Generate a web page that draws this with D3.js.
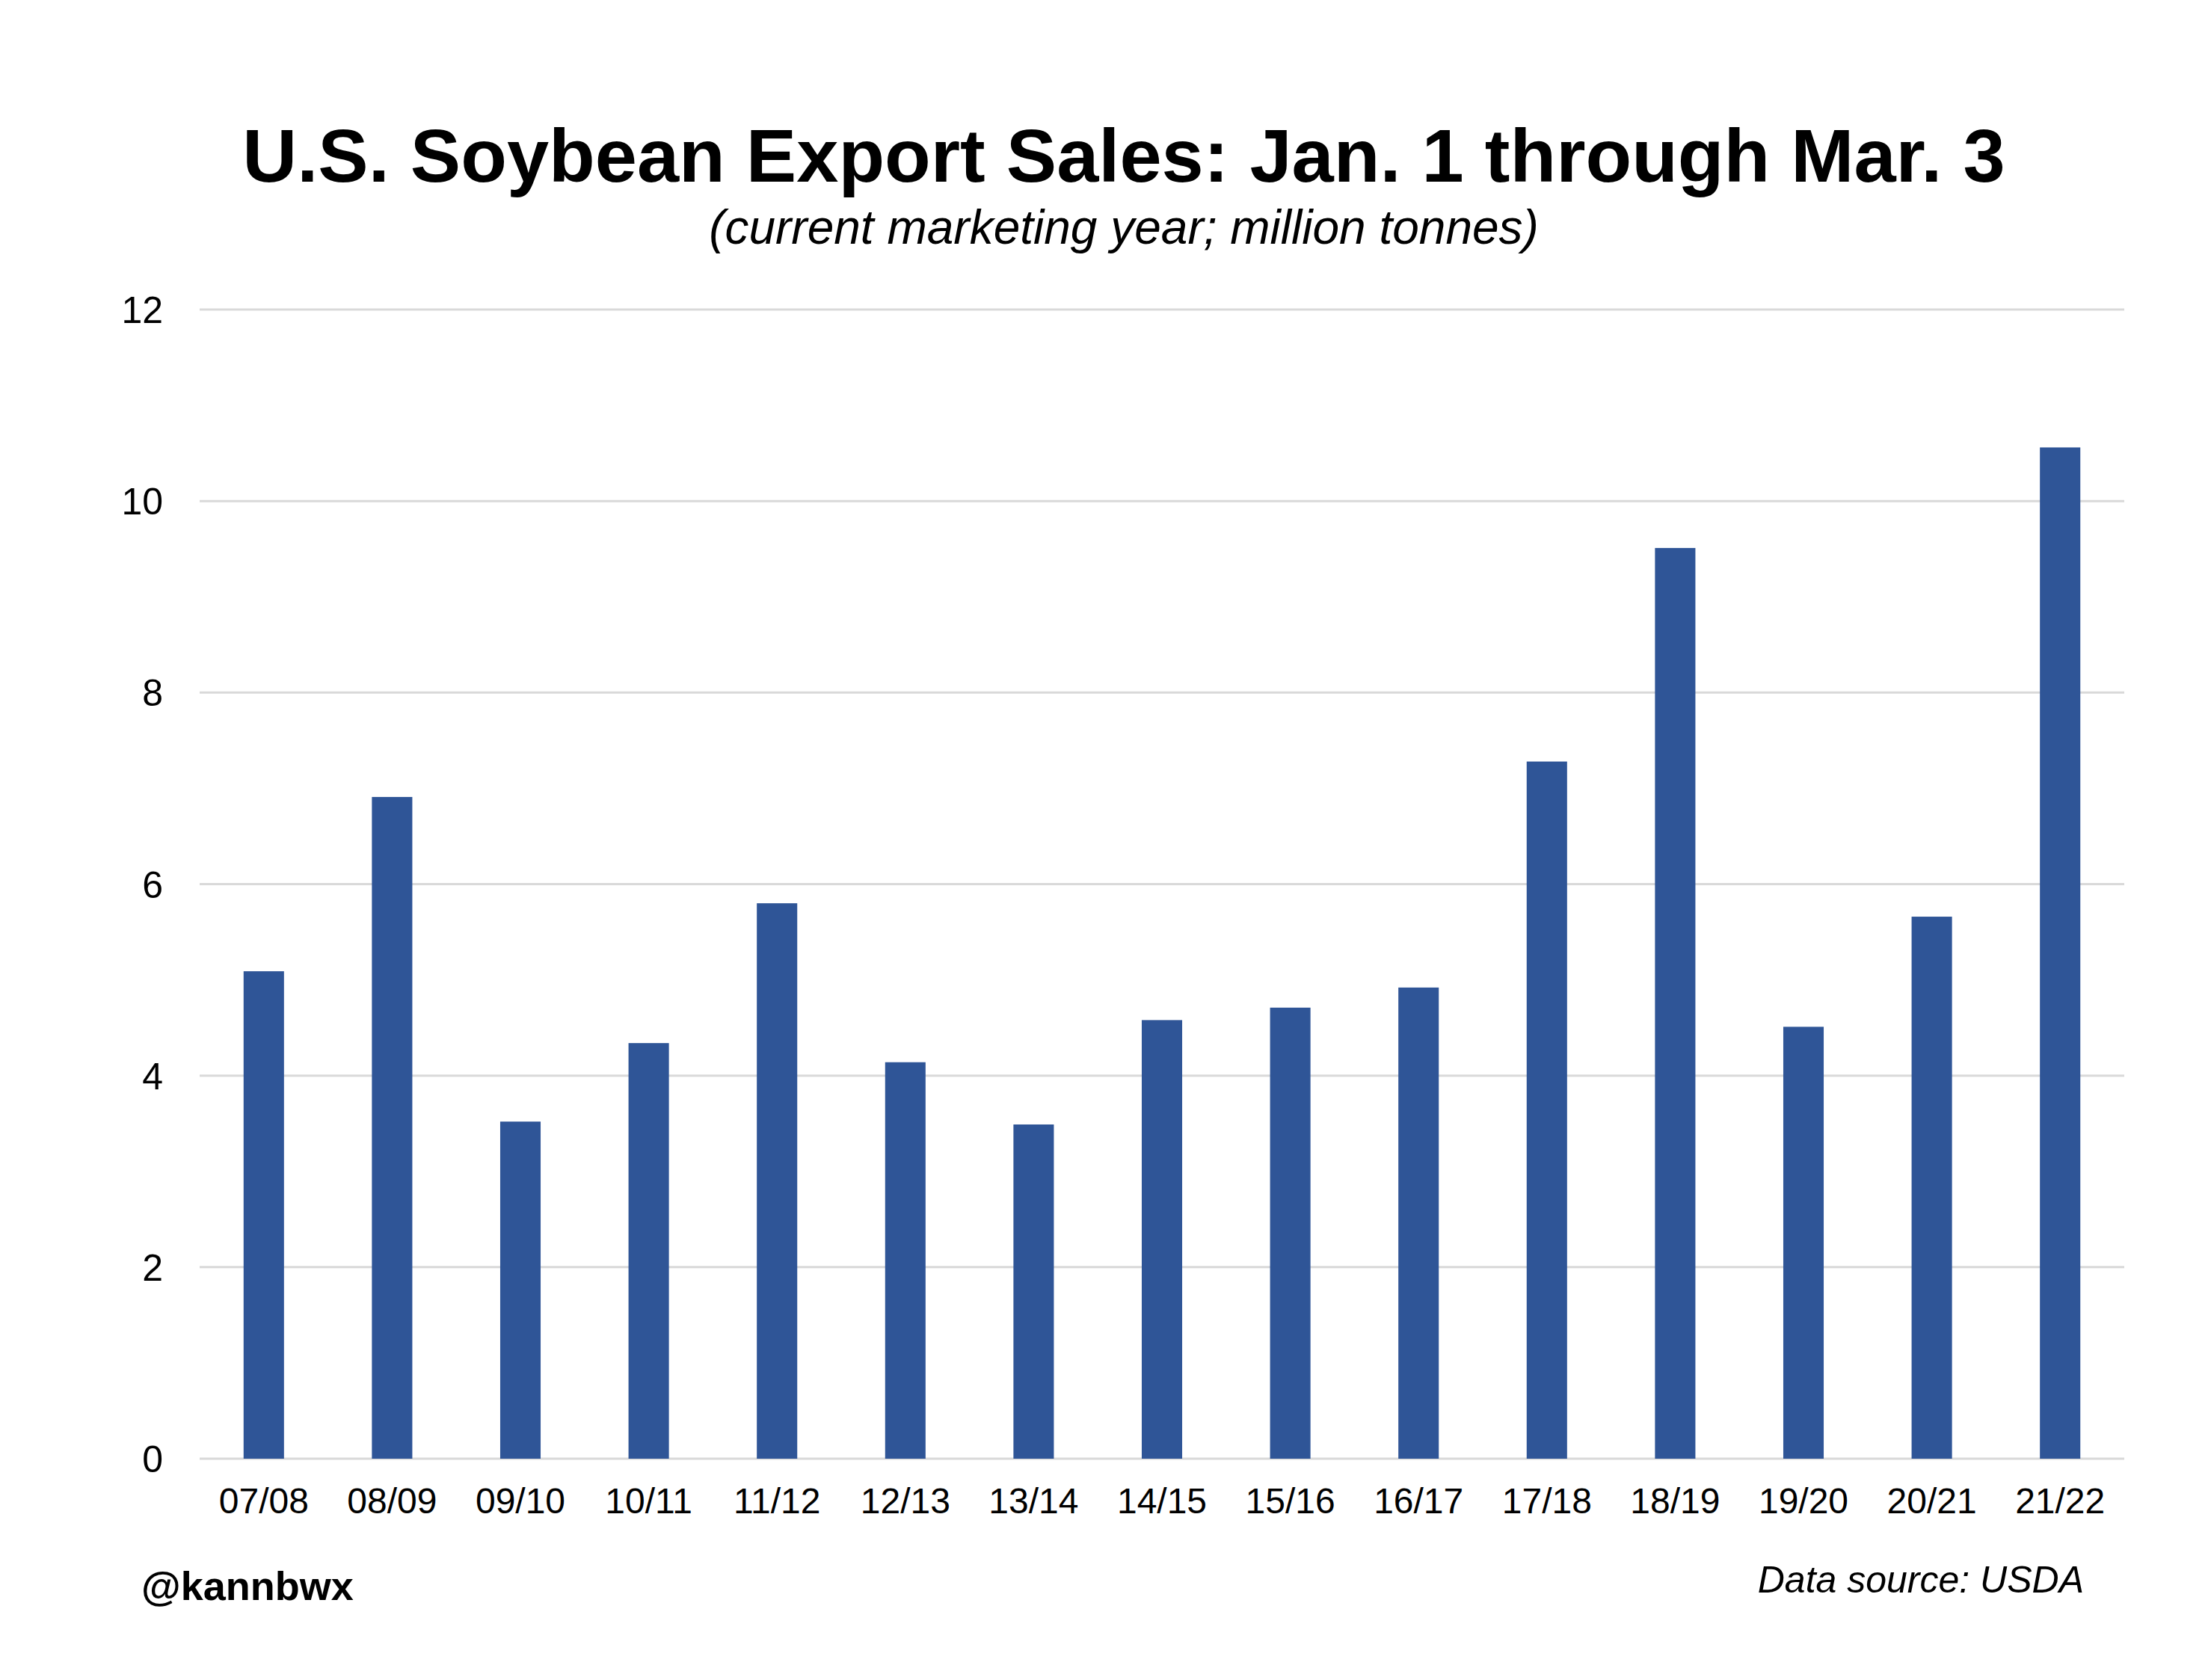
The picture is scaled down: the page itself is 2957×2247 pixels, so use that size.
<!DOCTYPE html>
<html><head><meta charset="utf-8">
<script src="https://cdn.jsdelivr.net/npm/d3@7"></script>
<style>html,body{margin:0;padding:0;background:#fff;}svg{display:block;}</style>
</head><body>
<script>
const categories = ["07/08","08/09","09/10","10/11","11/12","12/13","13/14","14/15","15/16","16/17","17/18","18/19","19/20","20/21","21/22"];
const values = [5.09, 6.91, 3.52, 4.34, 5.80, 4.14, 3.49, 4.58, 4.71, 4.92, 7.28, 9.51, 4.51, 5.66, 10.56];
const yTicks = [0, 2, 4, 6, 8, 10, 12];
const titleText = "U.S. Soybean Export Sales: Jan. 1 through Mar. 3";
const subtitleText = "(current marketing year; million tonnes)";
const handleText = "@kannbwx";
const sourceText = "Data source: USDA";

const W = 2957, H = 2247;
const font = "'Liberation Sans', Arial, sans-serif";
const svg = d3.select("body").append("svg").attr("width", W).attr("height", H);
svg.append("rect").attr("width", W).attr("height", H).attr("fill", "#fff");

const plot = {left: 267, right: 2841, top: 414, bottom: 1951};
const x = d3.scaleBand().domain(categories).range([plot.left, plot.right]).paddingInner(0.685).paddingOuter(0.3425);
const y = d3.scaleLinear().domain([0, 12]).range([plot.bottom, plot.top]);

// gridlines
svg.append("g").selectAll("line").data(yTicks).join("line")
  .attr("x1", plot.left).attr("x2", plot.right)
  .attr("y1", d => y(d)).attr("y2", d => y(d))
  .attr("stroke", "#d9d9d9").attr("stroke-width", 3);

// y axis labels
const yAxis = d3.axisLeft(y).tickValues(yTicks).tickSize(0).tickPadding(0);
const gy = svg.append("g").attr("transform", `translate(218,0)`).call(yAxis);
gy.select(".domain").remove();
gy.selectAll("text").attr("font-family", font).attr("font-size", 50).attr("fill", "#000").attr("dy", "0.35em");

// bars
svg.append("g").selectAll("rect").data(values).join("rect")
  .attr("x", (d, i) => x(categories[i]))
  .attr("width", x.bandwidth())
  .attr("y", d => y(d))
  .attr("height", d => y(0) - y(d))
  .attr("fill", "#2F5597");

// x axis labels
const xAxis = d3.axisBottom(x).tickSize(0).tickPadding(0);
const gx = svg.append("g").attr("transform", `translate(0,2024)`).call(xAxis);
gx.select(".domain").remove();
gx.selectAll("text").attr("font-family", font).attr("font-size", 48).attr("fill", "#000").attr("dy", 0).attr("y", 0);

// titles
svg.append("text").attr("x", 1503).attr("y", 243).attr("text-anchor", "middle")
  .attr("font-family", font).attr("font-weight", "bold").attr("font-size", 101).attr("fill", "#000").text(titleText);
svg.append("text").attr("x", 1503).attr("y", 326).attr("text-anchor", "middle")
  .attr("font-family", font).attr("font-style", "italic").attr("font-size", 64).attr("fill", "#000").text(subtitleText);

// footer
svg.append("text").attr("x", 189).attr("y", 2140)
  .attr("font-family", font).attr("font-weight", "bold").attr("font-size", 54).attr("fill", "#000").text(handleText);
svg.append("text").attr("x", 2787).attr("y", 2130).attr("text-anchor", "end")
  .attr("font-family", font).attr("font-style", "italic").attr("font-size", 50).attr("fill", "#000").text(sourceText);
</script>
</body></html>
